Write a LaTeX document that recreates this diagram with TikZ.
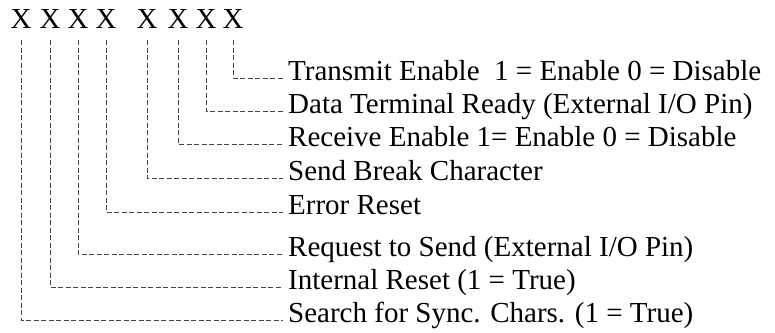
\documentclass[tikz,border=0pt]{standalone}
\usepackage{fontspec}
\setmainfont{Liberation Serif}
\begin{document}
\begin{tikzpicture}[x=1pt,y=-1pt,
  bitx/.style={inner sep=0pt, anchor=base, font=\fontsize{29}{33}\selectfont},
  lbl/.style={inner xsep=5pt, inner ysep=0pt, anchor=mid west, font=\fontsize{29}{33}\selectfont},
  conn/.style={draw=black!72, line width=1pt, dash pattern=on 5pt off 2.5pt}]
\useasboundingbox (0,0) rectangle (775,332);
% bit placeholders
\node[bitx] (x1) at (21,28) {X};
\node[bitx] (x2) at (50,28) {X};
\node[bitx] (x3) at (78,28) {X};
\node[bitx] (x4) at (106,28) {X};
\node[bitx] (x5) at (147,28) {X};
\node[bitx] (x6) at (178,28) {X};
\node[bitx] (x7) at (206,28) {X};
\node[bitx] (x8) at (233,28) {X};
% labels
\node[lbl] (t1) at (283,78) {Transmit Enable\ \ 1 = Enable 0 = Disable};
\node[lbl] (t2) at (283,111) {Data Terminal Ready (External I/O Pin)};
\node[lbl] (t3) at (283,144) {Receive Enable 1= Enable 0 = Disable};
\node[lbl] (t4) at (283,178) {Send Break Character};
\node[lbl] (t5) at (283,212) {Error Reset};
\node[lbl] (t6) at (283,254) {Request to Send (External I/O Pin)};
\node[lbl] (t7) at (283,287) {Internal Reset (1 = True)};
\node[lbl] (t8) at (283,320) {Search for Sync. Chars. (1 = True)};
% connectors
\draw[conn] ([yshift=-12pt]x8.south) |- (t1.mid west);
\draw[conn] ([yshift=-12pt]x7.south) |- (t2.mid west);
\draw[conn] ([yshift=-12pt]x6.south) |- (t3.mid west);
\draw[conn] ([yshift=-12pt]x5.south) |- (t4.mid west);
\draw[conn] ([yshift=-12pt]x4.south) |- (t5.mid west);
\draw[conn] ([yshift=-12pt]x3.south) |- (t6.mid west);
\draw[conn] ([yshift=-12pt]x2.south) |- (t7.mid west);
\draw[conn] ([yshift=-12pt]x1.south) |- (t8.mid west);
\end{tikzpicture}
\end{document}
